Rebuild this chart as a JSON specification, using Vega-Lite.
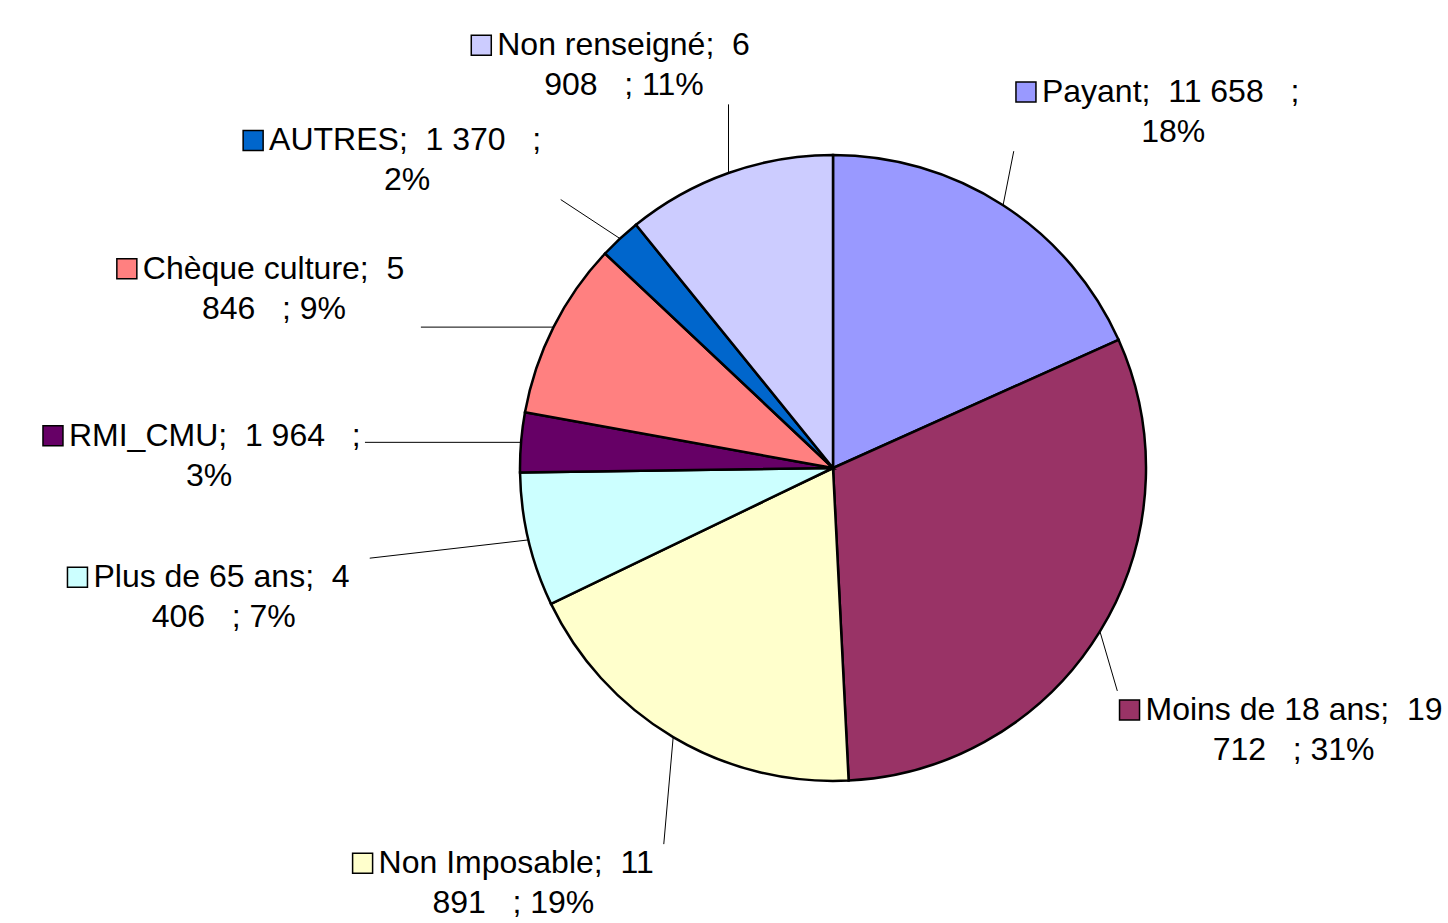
{
  "$schema": "https://vega.github.io/schema/vega-lite/v6.json",
  "width": 1230,
  "height": 910,
  "padding": {"left": 218, "top": 13, "right": 0, "bottom": 0},
  "autosize": {"type": "none"},
  "background": "white",
  "config": {"view": {"stroke": null}},
  "data": {
    "values": [
      {"label": "Payant", "value": 11658, "order": 1, "text1": "Payant;\u00a0\u00a011\u00a0658\u00a0\u00a0\u00a0;", "text2": "18%"},
      {"label": "Moins de 18 ans", "value": 19712, "order": 2, "text1": "Moins de 18 ans;\u00a0\u00a019", "text2": "712\u00a0\u00a0\u00a0; 31%"},
      {"label": "Non Imposable", "value": 11891, "order": 3, "text1": "Non Imposable;\u00a0\u00a011", "text2": "891\u00a0\u00a0\u00a0; 19%"},
      {"label": "Plus de 65 ans", "value": 4406, "order": 4, "text1": "Plus de 65 ans;\u00a0\u00a04", "text2": "406\u00a0\u00a0\u00a0; 7%"},
      {"label": "RMI_CMU", "value": 1964, "order": 5, "text1": "RMI_CMU;\u00a0\u00a01\u00a0964\u00a0\u00a0\u00a0;", "text2": "3%"},
      {"label": "Chèque culture", "value": 5846, "order": 6, "text1": "Chèque culture;\u00a0\u00a05", "text2": "846\u00a0\u00a0\u00a0; 9%"},
      {"label": "AUTRES", "value": 1370, "order": 7, "text1": "AUTRES;\u00a0\u00a01\u00a0370\u00a0\u00a0\u00a0;", "text2": "2%"},
      {"label": "Non renseigné", "value": 6908, "order": 8, "text1": "Non renseigné;\u00a0\u00a06", "text2": "908\u00a0\u00a0\u00a0; 11%"}
    ]
  },
  "transform": [
    {"joinaggregate": [{"op": "sum", "field": "value", "as": "total"}]},
    {"window": [{"op": "sum", "field": "value", "as": "cum"}], "sort": [{"field": "order", "order": "ascending"}], "frame": [null, 0]},
    {"calculate": "2*PI*(datum.cum - datum.value/2)/datum.total", "as": "mid"},
    {"calculate": "sin(datum.mid)", "as": "s"},
    {"calculate": "cos(datum.mid)", "as": "c"},
    {"calculate": "(0.556*length(datum.text1) - 0.278*(length(datum.text1)-length(replace(datum.text1, regexp('[ \u00a0;tIf]','g'), ''))) - 0.334*(length(datum.text1)-length(replace(datum.text1, regexp('[il]','g'), ''))) - 0.223*(length(datum.text1)-length(replace(datum.text1, regexp('r','g'), ''))) + 0.14*(length(datum.text1)-length(replace(datum.text1, regexp('[A-HJ-Z]','g'), ''))))*16/313", "as": "hw"},
    {"calculate": "clamp(2.0*datum.s, -2.6613 + datum.hw + 0.13, 1.9649 - datum.hw - 0.02)", "as": "lx"},
    {"calculate": "1.45*datum.c - 0.08", "as": "ly"},
    {"calculate": "datum.lx - datum.hw", "as": "tx"},
    {"calculate": "datum.lx - datum.hw - 0.051", "as": "sqx"},
    {"calculate": "datum.ly + 0.064", "as": "sqy"},
    {"calculate": "clamp(datum.s, datum.lx - datum.hw - 0.09, datum.lx + datum.hw + 0.05)", "as": "ex"},
    {"calculate": "clamp(datum.c, datum.ly - 0.125, datum.ly + 0.125)", "as": "ey"}
  ],
  "layer": [
    {
      "mark": {"type": "arc", "outerRadius": 313, "stroke": "black", "strokeWidth": 2.5},
      "encoding": {
        "theta": {"field": "value", "type": "quantitative", "stack": true},
        "order": {"field": "order", "type": "quantitative"},
        "color": {
          "field": "label", "type": "nominal", "legend": null,
          "scale": {
            "domain": ["Payant", "Moins de 18 ans", "Non Imposable", "Plus de 65 ans", "RMI_CMU", "Chèque culture", "AUTRES", "Non renseigné"],
            "range": ["#9999FF", "#993366", "#FFFFCC", "#CCFFFF", "#660066", "#FF8080", "#0066CC", "#CCCCFF"]
          }
        }
      }
    },
    {
      "mark": {"type": "rule", "color": "black", "strokeWidth": 1},
      "encoding": {
        "x": {"field": "s", "type": "quantitative", "scale": {"domain": [-1.9649, 1.9649], "nice": false, "zero": false}, "axis": null},
        "y": {"field": "c", "type": "quantitative", "scale": {"domain": [-1.4537, 1.4537], "nice": false, "zero": false}, "axis": null},
        "x2": {"field": "ex"},
        "y2": {"field": "ey"}
      }
    },
    {
      "mark": {"type": "point", "shape": "square", "filled": true, "size": 400, "stroke": "black", "strokeWidth": 1.5, "opacity": 1},
      "encoding": {
        "x": {"field": "sqx", "type": "quantitative"},
        "y": {"field": "sqy", "type": "quantitative"},
        "color": {"field": "label", "type": "nominal", "legend": null}
      }
    },
    {
      "mark": {"type": "text", "align": "left", "baseline": "middle", "font": "Liberation Sans", "fontSize": 32, "color": "black", "dy": -20},
      "encoding": {
        "x": {"field": "tx", "type": "quantitative"},
        "y": {"field": "ly", "type": "quantitative"},
        "text": {"field": "text1"}
      }
    },
    {
      "mark": {"type": "text", "align": "center", "baseline": "middle", "font": "Liberation Sans", "fontSize": 32, "color": "black", "dy": 20},
      "encoding": {
        "x": {"field": "lx", "type": "quantitative"},
        "y": {"field": "ly", "type": "quantitative"},
        "text": {"field": "text2"}
      }
    }
  ]
}
